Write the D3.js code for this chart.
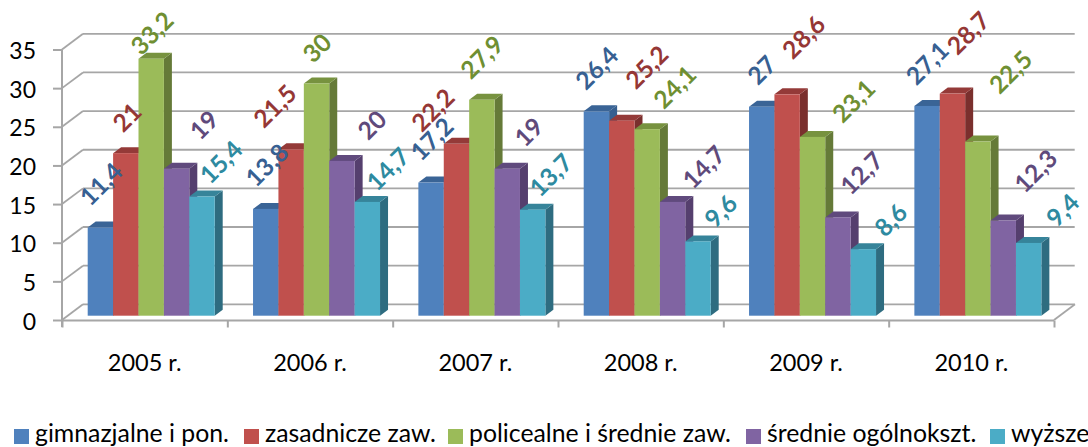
<!DOCTYPE html>
<html><head><meta charset="utf-8">
<script src="https://cdn.jsdelivr.net/npm/d3@7"></script>
<style>html,body{margin:0;padding:0;background:#fff;overflow:hidden}svg{display:block}text{font-family:Lato,"Open Sans",sans-serif}</style>
</head><body><svg id="c" width="1088" height="447"></svg>
<script>
const categories = ["2005 r.","2006 r.","2007 r.","2008 r.","2009 r.","2010 r."];
const seriesNames = ["gimnazjalne i pon.","zasadnicze zaw.","policealne i średnie zaw.","średnie ogólnokszt.","wyższe"];
const gimnazjalne = [11.4,13.8,17.2,26.4,27,27.1];
const zasadnicze = [21,21.5,22.2,25.2,28.6,28.7];
const policealne = [33.2,30,27.9,24.1,23.1,22.5];
const ogolnoksztalcace = [19,20,19,14.7,12.7,12.3];
const wyzsze = [15.4,14.7,13.7,9.6,8.6,9.4];
const allSeries = [gimnazjalne,zasadnicze,policealne,ogolnoksztalcace,wyzsze];
const yTicks = [0,5,10,15,20,25,30,35];

// layout and style, kept apart from the data
const fronts = ["#4F81BD","#C0504D","#9BBB59","#8064A2","#4BACC6"];
const tops   = ["#3A6496","#943A38","#77923F","#604A7D","#36849A"];
const sides  = ["#365F8F","#7A2F2D","#657A38","#553F6E","#2E6C80"];
const labelColors = ["#376092","#953735","#6F8F32","#5F4A7B","#2E8AA0"];
// manual label placement, [dx, dy] from each bar's top centre, by series then category
const labelShift = [
 [[0.6,-43.5],[1.2,-43.9],[0.8,-43.6],[0.4,-43.4],[0,-36.7],[0.2,-42.9]],
 [[1.2,-36],[-16.2,-43.3],[-23.6,-33.9],[25,-53.6],[16.6,-57.3],[15.8,-60.6]],
 [[0.8,-25.7],[0.4,-35.5],[0,-42.7],[27.6,-42.2],[41.2,-35.9],[32.8,-69.6]],
 [[27.4,-43.6],[30,-35.9],[21.6,-36.6],[31.2,-34.9],[23.8,-44.4],[32.4,-49.5]],
 [[19,-34.5],[20.6,-32.9],[18.2,-34.7],[22.8,-30.4],[27.4,-29.1],[34,-33]]
];
const depth = {x:21, y:-15.7};
const barDepth = {x:8, y:-6};
const legendX = [14,244,448,746,990];

const svg = d3.select("#c");
const fmt = v => String(v).replace(".",",");
const x0 = d3.scaleBand().domain(categories).range([62,1054]);
const x1 = d3.scaleBand().domain(d3.range(5)).range([25.7,152.7]);
const yAxis = d3.scaleLinear().domain([0,35]).range([320,49.5]);
const yBar = d3.scaleLinear().domain([0,35]).range([315.7,44.8]);
const grey = "#A6A6A6";

const grid = svg.append("g").attr("stroke",grey).attr("stroke-width",1.8).attr("fill","none");
grid.selectAll("line.h").data(yTicks).join("line").attr("class","h")
  .attr("x1",62+depth.x).attr("x2",1054+depth.x-0.3)
  .attr("y1",d=>yAxis(d)+depth.y).attr("y2",d=>yAxis(d)+depth.y);
grid.selectAll("line.d").data(yTicks).join("line").attr("class","d")
  .attr("x1",62).attr("x2",62+depth.x)
  .attr("y1",d=>yAxis(d)).attr("y2",d=>yAxis(d)+depth.y);
grid.append("line").attr("x1",1054).attr("x2",1054+depth.x)
  .attr("y1",yAxis(0)).attr("y2",yAxis(0)+depth.y);

const left = svg.append("g").attr("transform","translate(62,0)")
  .call(d3.axisLeft(yAxis).tickValues(yTicks).tickSize(9).tickPadding(17));
const bottom = svg.append("g").attr("transform","translate(0,320.5)")
  .call(d3.axisBottom(d3.scaleLinear().domain([0,6]).range([62,1054])).ticks(6).tickSize(7).tickFormat(""));
[left,bottom].forEach(a=>{
  a.selectAll("path").attr("stroke",grey).attr("stroke-width",2).attr("d",null);
  a.selectAll("line").attr("stroke",grey).attr("stroke-width",2);
});
left.append("line").attr("x1",0).attr("x2",0).attr("y1",yAxis(35)).attr("y2",yAxis(0)+7).attr("stroke",grey).attr("stroke-width",2);
bottom.append("line").attr("x1",62).attr("x2",1054).attr("y1",0).attr("y2",0).attr("stroke",grey).attr("stroke-width",2);
left.selectAll("text").attr("font-size",23).attr("font-family","Lato").attr("fill","#000").attr("dy","0.4em");

categories.forEach((cat,c)=>{
  const g = svg.append("g");
  allSeries.forEach((vals,s)=>{
    const xl = x0(cat)+x1(s), w = x1.bandwidth(), xr = xl+w;
    const top = yBar(vals[c]), base = yBar(0);
    const dx = barDepth.x, dy = barDepth.y;
    g.append("path").attr("fill",sides[s])
      .attr("d",d3.line()([[xr,top],[xr+dx,top+dy],[xr+dx,base+dy],[xr,base]]));
    g.append("path").attr("fill",tops[s])
      .attr("d",d3.line()([[xl,top],[xl+dx,top+dy],[xr+dx,top+dy],[xr,top]]));
    g.append("rect").attr("x",xl).attr("y",top).attr("width",w).attr("height",base-top).attr("fill",fronts[s]);
  });
});

categories.forEach((cat,c)=>{
  allSeries.forEach((vals,s)=>{
    const cx = x0(cat)+x1(s)+x1.bandwidth()/2+labelShift[s][c][0];
    const cy = yBar(vals[c])+labelShift[s][c][1];
    svg.append("text").attr("transform",`translate(${cx},${cy}) rotate(-45)`)
      .attr("text-anchor","middle").attr("dy","0.36em")
      .attr("font-size",24.5).attr("font-weight",700).attr("fill",labelColors[s])
      .text(fmt(vals[c]));
  });
});

svg.selectAll("text.cat").data(categories).join("text").attr("class","cat")
  .attr("x",d=>x0(d)+x0.bandwidth()/2).attr("y",371)
  .attr("text-anchor","middle").attr("font-size",23.5).attr("fill","#000").text(d=>d);

const lg = svg.selectAll("g.lg").data(seriesNames).join("g").attr("class","lg")
  .attr("transform",(d,i)=>`translate(${legendX[i]},0)`);
lg.append("rect").attr("y",429).attr("width",15).attr("height",15).attr("fill",(d,i)=>fronts[i]);
lg.append("text").attr("x",21).attr("y",441.5).attr("font-size",24.8).attr("fill","#000").text(d=>d);
</script></body></html>
